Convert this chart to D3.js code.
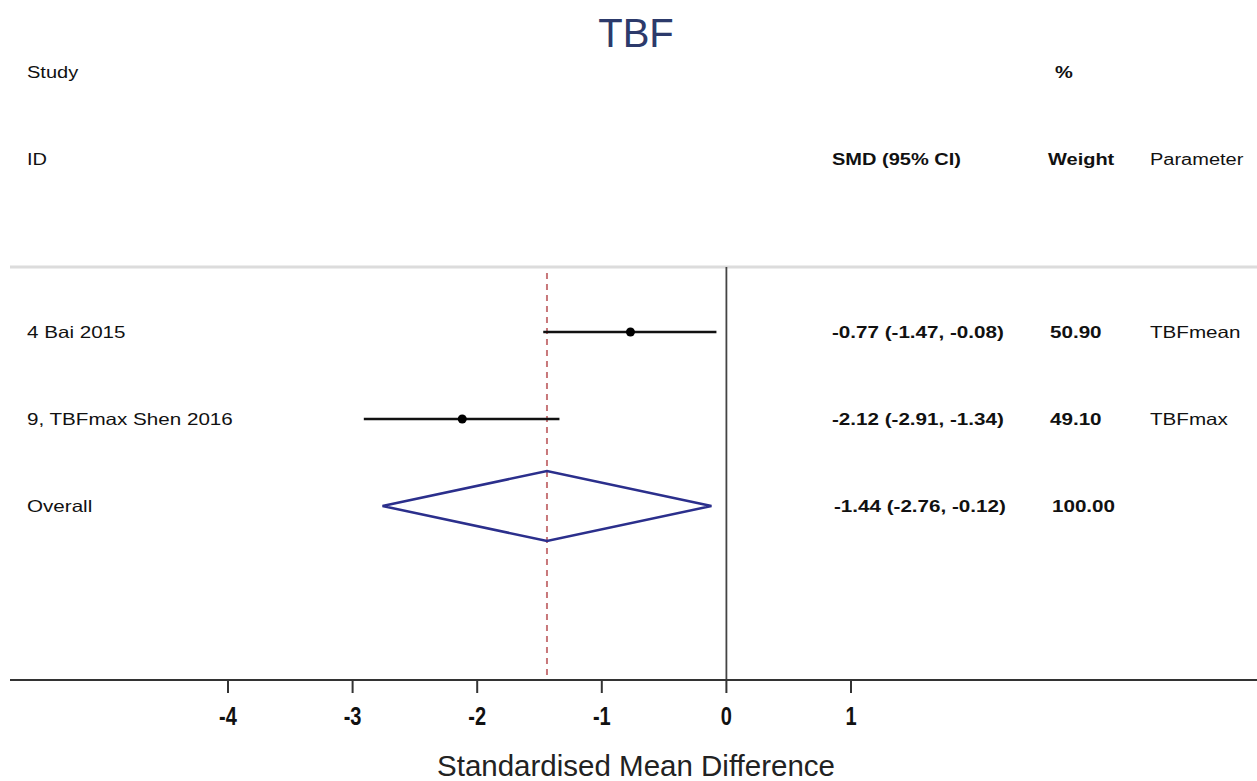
<!doctype html>
<html>
  <head>
    <script src="https://cdnjs.cloudflare.com/ajax/libs/d3/7.8.5/d3.min.js"></script>
    <style>
      body { margin: 0; background: #fff; }
      text { font-family: "Liberation Sans", Arial, sans-serif; fill: #111; }
      line.ci { stroke: #111; stroke-width: 2.5; }
      path.diamond { fill: none; stroke: #2b2f8c; stroke-width: 2.5; }
      line.ref { stroke: #c8777a; stroke-width: 2; stroke-dasharray: 6 5; }
    </style>
  </head>
  <body>
    <svg width="1257" height="781"></svg>
    <script>
      // study rows
      var studies = ["4 Bai 2015", "9, TBFmax Shen 2016"];
      var smd = [-0.77, -2.12];
      var lower = [-1.47, -2.91];
      var upper = [-0.08, -1.34];
      var weights = ["50.90", "49.10"];
      var params = ["TBFmean", "TBFmax"];
      var ciLabels = ["-0.77 (-1.47, -0.08)", "-2.12 (-2.91, -1.34)"];

      // pooled estimate
      var overallLabel = "Overall";
      var overallEst = -1.44, overallLo = -2.76, overallHi = -0.12;
      var overallCi = "-1.44 (-2.76, -0.12)";
      var overallWeight = "100.00";

      var ticks = [-4, -3, -2, -1, 0, 1];

      var svg = d3.select("svg");
      var x = d3.scaleLinear().domain([-4, 1]).range([228, 851]);
      var y = d3.scalePoint().domain([0, 1, 2]).range([332, 506]);
      var yTop = 267, yBottom = 680;
      var sx = 1.25; // the picture is stretched horizontally

      function label(px, py, str, size, weight, scaleX, anchor) {
        var g = svg.append("g").attr("transform", "translate(" + px + "," + py + ") scale(" + (scaleX || sx) + ",1)");
        var t = g.append("text").attr("font-size", size).text(str);
        if (weight) t.attr("font-weight", weight);
        if (anchor) t.attr("text-anchor", anchor);
        return t;
      }

      // title
      svg.append("text").attr("x", 636).attr("y", 47).attr("text-anchor", "middle")
        .attr("font-size", 40).style("fill", "#2c3a6b").text("TBF");

      // headers
      label(27, 78, "Study", 16);
      label(1055, 78, "%", 16, "bold");
      label(27, 165, "ID", 16);
      label(832, 165, "SMD (95% CI)", 16, "bold");
      label(1048, 165, "Weight", 16, "bold");
      label(1150, 165, "Parameter", 16);

      // frame lines
      svg.append("line").attr("x1", 10).attr("x2", 1257).attr("y1", yTop).attr("y2", yTop)
        .style("stroke", "#dcdcdc").style("stroke-width", 3);
      svg.append("line").attr("x1", x(0)).attr("x2", x(0)).attr("y1", yTop).attr("y2", yBottom)
        .style("stroke", "#444").style("stroke-width", 1.8);
      svg.append("line").attr("class", "ref").attr("x1", x(overallEst)).attr("x2", x(overallEst))
        .attr("y1", yTop + 6).attr("y2", yBottom);

      // axis
      svg.append("line").attr("x1", 10).attr("x2", 1257).attr("y1", yBottom).attr("y2", yBottom)
        .style("stroke", "#333").style("stroke-width", 2);
      ticks.forEach(function (t) {
        svg.append("line").attr("x1", x(t)).attr("x2", x(t)).attr("y1", yBottom).attr("y2", yBottom + 13)
          .style("stroke", "#333").style("stroke-width", 2);
        label(x(t), 725, t, 25, "bold", 0.8, "middle");
      });
      svg.append("text").attr("x", 636).attr("y", 776).attr("text-anchor", "middle")
        .attr("font-size", 29.5).style("fill", "#222").text("Standardised Mean Difference");

      // studies
      studies.forEach(function (s, i) {
        var yy = y(i);
        svg.append("line").attr("class", "ci").attr("x1", x(lower[i])).attr("x2", x(upper[i]))
          .attr("y1", yy).attr("y2", yy);
        svg.append("circle").attr("cx", x(smd[i])).attr("cy", yy).attr("r", 4.5).style("fill", "#000");
        label(27, yy + 6, s, 16.5);
        label(832, yy + 6, ciLabels[i], 16.5, "bold");
        label(1050, yy + 6, weights[i], 16.5, "bold");
        label(1150, yy + 6, params[i], 16.5);
      });

      // overall diamond
      var yo = y(2), h = 35;
      svg.append("path").attr("class", "diamond")
        .attr("d", "M" + x(overallLo) + "," + yo + "L" + x(overallEst) + "," + (yo - h) +
          "L" + x(overallHi) + "," + yo + "L" + x(overallEst) + "," + (yo + h) + "Z");
      label(27, yo + 6, overallLabel, 16.5);
      label(834, yo + 6, overallCi, 16.5, "bold");
      label(1052, yo + 6, overallWeight, 16.5, "bold");
    </script>
  </body>
</html>
